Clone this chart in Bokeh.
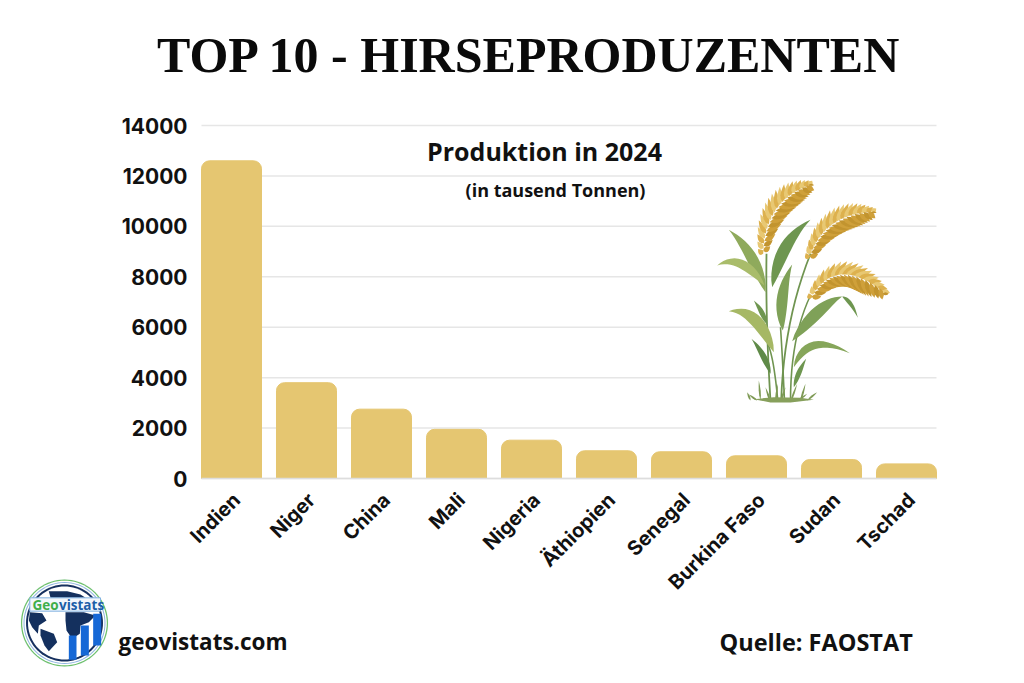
from bokeh.plotting import figure
from bokeh.embed import file_html
from bokeh.resources import INLINE
from bokeh.models import Label, PolyAnnotation, Range1d, FixedTicker, LinearAxis
import math

categories = ["Indien", "Niger", "China", "Mali", "Nigeria", "Äthiopien", "Senegal", "Burkina Faso", "Sudan", "Tschad"]
production = [12600, 3800, 2750, 1950, 1520, 1100, 1060, 900, 750, 580]
y_ticks = [0, 2000, 4000, 6000, 8000, 10000, 12000, 14000]

positions = list(range(1, len(categories) + 1))

# The frame covers the whole page, so that logo and titles may sit anywhere in it.
p = figure(width=1016, height=675, output_backend="svg", toolbar_location=None,
           x_range=Range1d(-2.08, 11.4667), y_range=Range1d(-7813, 18958),
           x_axis_type=None, y_axis_type=None,
           min_border_left=0, min_border_right=0, min_border_top=0, min_border_bottom=0,
           background_fill_color="white", border_fill_color="white")
p.extra_x_ranges = {"labels": Range1d(-2.147, 11.4)}
p.outline_line_color = None
p.grid.visible = False

p.segment(x0=[0.6] * len(y_ticks), x1=[10.4] * len(y_ticks), y0=y_ticks, y1=y_ticks,
          line_color="#E6E6E6", line_width=1.5)
p.vbar(x=positions, top=production, width=0.8, color="#E5C671", border_radius=(8, 8, 0, 0))

axis = LinearAxis(x_range_name="labels", ticker=FixedTicker(ticks=positions), fixed_location=0,
                  bounds=(0.533, 10.333),
                  major_label_overrides={i: c for i, c in zip(positions, categories)})
p.add_layout(axis, "below")
yaxis = LinearAxis(ticker=FixedTicker(ticks=y_ticks), fixed_location=0.6)
p.add_layout(yaxis, "left")

yaxis.axis_line_color = None
yaxis.major_tick_line_color = None
yaxis.minor_tick_line_color = None
yaxis.major_label_text_font = "Inter"
yaxis.major_label_text_font_size = "21px"
yaxis.major_label_text_font_style = "bold"
yaxis.major_label_text_color = "#111111"
yaxis.major_label_standoff = 8
axis.axis_line_color = "#DDDDDD"
axis.axis_line_width = 1.5
axis.major_tick_line_color = None
axis.minor_tick_line_color = None
axis.major_label_orientation = math.pi / 4
axis.major_label_text_font = "Inter"
axis.major_label_text_font_size = "20px"
axis.major_label_text_font_style = "bold"
axis.major_label_text_color = "#111111"
axis.major_label_standoff = 12


def text(s, x, y, size, font="Open Sans", style="bold", color="#111111", align="left"):
    p.add_layout(Label(x=x, y=y - 0.36 * size, x_units="canvas", y_units="canvas", text=s, text_font=font,
                       text_font_size=f"{size}px", text_font_style=style, text_color=color,
                       text_align=align, text_baseline="alphabetic"))


def poly(pts, color, alpha=1.0, line=None, lw=0):
    p.add_layout(PolyAnnotation(xs=[a for a, b in pts], ys=[b for a, b in pts],
                                xs_units="canvas", ys_units="canvas", fill_color=color, fill_alpha=alpha,
                                line_color=line, line_width=lw, line_alpha=1 if line else 0))


text("TOP 10 - HIRSEPRODUZENTEN", 529, 72, 50, font="Liberation Serif", color="#0A0A0A", align="center")
text("Produktion in 2024", 544, 159, 25, align="center")
text("(in tausend Tonnen)", 555, 196, 18, align="center")
text("geovistats.com", 118, 649, 22.5)
text("Quelle: FAOSTAT", 719, 650, 23.5)


# ---- decorative millet plant ----
def z(x, y):
    return (690 + x / 3, 170 + y / 3)


def quad(a, c, b, t):
    return ((1 - t) ** 2 * a[0] + 2 * t * (1 - t) * c[0] + t * t * b[0],
            (1 - t) ** 2 * a[1] + 2 * t * (1 - t) * c[1] + t * t * b[1])


def leaf(a, c, b, w, color, n=14):
    left, right = [], []
    for i in range(n + 1):
        t = i / n
        x, y = quad(a, c, b, t)
        x2, y2 = quad(a, c, b, min(t + .01, 1))
        x1, y1 = quad(a, c, b, max(t - .01, 0))
        dx, dy = x2 - x1, y2 - y1
        d = math.hypot(dx, dy) or 1
        h = w * math.sin(math.pi * t ** 0.8) / 2
        left.append((x - dy / d * h, y + dx / d * h))
        right.append((x + dy / d * h, y - dx / d * h))
    poly(left + right[::-1], color)


def stem(a, c, b, w, color="#6F9450"):
    n = 12
    left, right = [], []
    for i in range(n + 1):
        x, y = quad(a, c, b, i / n)
        left.append((x - w / 2, y))
        right.append((x + w / 2, y))
    poly(left + right[::-1], color)


def panicle(a, c, b, length, droop):
    n = 40
    for i in range(n):
        t = i / (n - 1)
        x, y = quad(a, c, b, t)
        L = length * math.sin(math.pi * (0.1 + 0.85 * t)) + 3
        side = 1 if i % 2 else -1
        tx, ty = quad(a, c, b, min(t + .05, 1))
        dx, dy = tx - x, ty - y
        d = math.hypot(dx, dy) or 1
        ex = x + dx / d * L * .7 + (side * -dy / d) * L * .6
        ey = y + dy / d * L * .7 + (side * dx / d) * L * .6 + droop
        col = ["#DDB14E", "#CFA03A", "#E8C873", "#C2942F"][i % 4]
        leaf((x, y), ((x + ex) / 2, (y + ey) / 2 + 1), (ex, ey), 5.4, col, n=5)


for a, c, b, w in [((240, 692), (225, 450), (228, 250), 1.8), ((272, 692), (280, 450), (360, 250), 1.8),
                   ((300, 692), (300, 500), (360, 375), 1.6), ((262, 692), (250, 560), (232, 520), 1.6),
                   ((282, 692), (276, 560), (270, 470), 1.6)]:
    stem(z(*a), z(*c), z(*b), w)

leaves = [
    ((225, 365), (190, 240), (115, 178), 11, "#8FAA5C"),
    ((222, 345), (150, 245), (80, 285), 9, "#A9BC6A"),
    ((245, 350), (270, 210), (360, 148), 12, "#6E9650"),
    ((277, 480), (262, 370), (305, 282), 11, "#7FA158"),
    ((250, 545), (200, 410), (115, 422), 12, "#A6B865"),
    ((228, 460), (215, 420), (190, 390), 5, "#6E9650"),
    ((240, 610), (222, 550), (183, 505), 6, "#5F8A48"),
    ((305, 512), (390, 400), (455, 378), 12, "#7FA158"),
    ((455, 378), (482, 390), (502, 442), 4, "#6E9650"),
    ((310, 590), (350, 480), (478, 548), 8, "#86A65A"),
    ((310, 650), (325, 600), (347, 565), 5, "#6E9650"),
]
for a, c, b, w, col in leaves:
    leaf(z(*a), z(*c), z(*b), w, col)

for a, b in [((180, 690), (170, 665)), ((210, 690), (205, 630)), ((240, 695), (225, 650)), ((255, 695), (262, 640)),
             ((300, 695), (320, 640)), ((330, 692), (345, 640)), ((350, 690), (380, 665)), ((320, 692), (350, 670)),
             ((200, 690), (175, 672)), ((270, 695), (285, 650))]:
    leaf(z(*a), z((a[0] + b[0]) / 2, (a[1] + b[1]) / 2), z(*b), 2, "#7E9A55", n=4)
poly([z(190, 686), z(250, 680), z(330, 682), z(370, 688), z(300, 696), z(240, 696)], "#87A05C")

panicle(z(218, 250), z(225, 90), z(362, 40), 20, 2)
panicle(z(355, 265), z(400, 130), z(550, 122), 20, 2)
panicle(z(360, 385), z(430, 250), z(585, 365), 21, 3)


# ---- decorative logo ----
def ring(cx, cy, r, color):
    poly([(cx + r * math.cos(i * math.pi / 40), cy + r * math.sin(i * math.pi / 40)) for i in range(80)], color)


def l(pts):
    return [(x / 3, 570 + y / 3) for x, y in pts]


cx, cy = 64, 622.5
ring(cx, cy, 44, "#F6F8FC")
ring(cx, cy, 43.5, "#6CC06A")
ring(cx, cy, 42.3, "white")
ring(cx, cy, 41, "#8FB4E0")
ring(cx, cy, 40, "white")
ring(cx, cy, 38.5, "#16305F")
ring(cx, cy, 36.5, "white")
navy = "#14305E"
poly(l([(88, 125), (125, 128), (138, 150), (115, 165), (112, 190), (95, 170), (85, 150)]), navy)
poly(l([(120, 175), (160, 190), (170, 215), (145, 242), (132, 225), (120, 195)]), navy)
poly(l([(195, 125), (250, 125), (285, 135), (265, 155), (240, 165), (238, 190), (215, 205), (198, 180), (195, 150)]), navy)
poly(l([(145, 62), (200, 62), (240, 72), (255, 82), (150, 82)]), navy)
for a, b, c, d in [(205, 195, 228, 268), (241, 165, 265, 255), (278, 130, 302, 225)]:
    poly(l([(a, b), (c, b), (c, d), (a, d)]), "#1668D6")
poly(l([(88, 82), (300, 82), (300, 122), (88, 122)]), "#F2F7FC", line="#7FB0E0", lw=1)
text("Geo", 32, 609, 13.5, color="#3FAE49")
text("vistats", 58.5, 609, 13.5, color="#1C5FA8")

open("out.html", "w").write(file_html(p, INLINE))
